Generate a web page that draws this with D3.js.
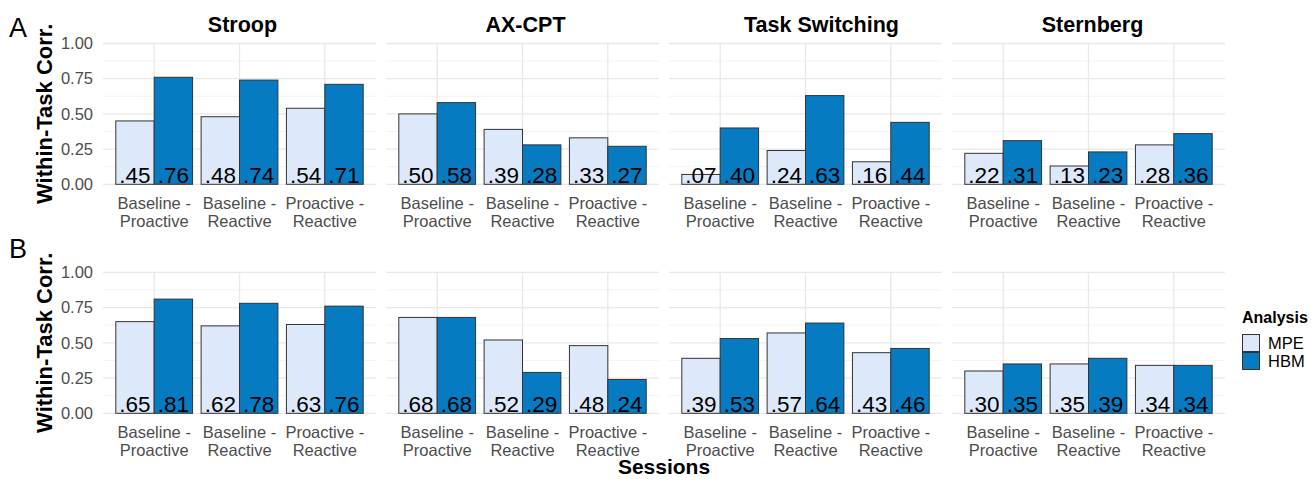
<!DOCTYPE html>
<html>
<head>
<meta charset="utf-8">
<script src="https://cdn.jsdelivr.net/npm/d3@7"></script>
<style>
  html, body { margin: 0; padding: 0; background: #fff; }
  svg { display: block; font-family: "Liberation Sans", Arial, sans-serif; }
</style>
</head>
<body>
<svg id="chart" width="1311" height="480"></svg>
<script>
// ---- data ----
const tasks = ["Stroop", "AX-CPT", "Task Switching", "Sternberg"];
const sessions = ["Baseline - Proactive", "Baseline - Reactive", "Proactive - Reactive"];
const analyses = ["MPE", "HBM"];
const yTicks = [0, 0.25, 0.5, 0.75, 1];
const yMinor = [0.125, 0.375, 0.625, 0.875];
const rows = ["A", "B"];

// values per task, per session
const rowA_MPE = [[0.45, 0.48, 0.54], [0.50, 0.39, 0.33], [0.07, 0.24, 0.16], [0.22, 0.13, 0.28]];
const rowA_HBM = [[0.76, 0.74, 0.71], [0.58, 0.28, 0.27], [0.40, 0.63, 0.44], [0.31, 0.23, 0.36]];
const rowB_MPE = [[0.65, 0.62, 0.63], [0.68, 0.52, 0.48], [0.39, 0.57, 0.43], [0.30, 0.35, 0.34]];
const rowB_HBM = [[0.81, 0.78, 0.76], [0.68, 0.29, 0.24], [0.53, 0.64, 0.46], [0.35, 0.39, 0.34]];

const colors = { MPE: "#dde9fa", HBM: "#067bc2" };

// ---- layout ----
const svg = d3.select("#chart");
const panelLeft0 = 103, panelW = 273, panelPitch = 283;
const titleShift = [3, 3, 16, 4];
const rowY = [{ top: 43.5, bottom: 184.3 }, { top: 272.3, bottom: 413.3 }];
const rowData = [[rowA_MPE, rowA_HBM], [rowB_MPE, rowB_HBM]];

const fmt = v => d3.format(".2f")(v).replace(/^0/, "");

rows.forEach((rowLabel, ri) => {
  const ry = rowY[ri];
  const y = d3.scaleLinear().domain([0, 1]).range([ry.bottom, ry.top]);

  // row letter
  svg.append("text").attr("x", 9).attr("y", ri === 0 ? 37 : 258)
    .attr("font-size", 27).attr("fill", "#000").text(rowLabel);

  // y title
  svg.append("text")
    .attr("transform", `translate(52,${(ry.top + ry.bottom) / 2}) rotate(-90)`)
    .attr("text-anchor", "middle").attr("font-size", 22).attr("font-weight", "bold")
    .attr("fill", "#000").text("Within-Task Corr.");

  // y axis tick labels
  const yAxis = d3.axisLeft(y).tickValues(yTicks).tickFormat(d3.format(".2f")).tickSize(0).tickPadding(0);
  const ga = svg.append("g").attr("transform", `translate(93,0)`).call(yAxis);
  ga.select(".domain").remove();
  ga.selectAll("text").attr("font-size", 16.5).attr("fill", "#4d4d4d")
    .attr("font-family", "Liberation Sans, Arial, sans-serif");

  tasks.forEach((task, ti) => {
    const left = panelLeft0 + ti * panelPitch;
    const x0 = d3.scaleBand().domain(sessions).range([left, left + panelW])
      .paddingInner(0).paddingOuter(0.1);
    const step = x0.step();
    const x1 = d3.scaleBand().domain(analyses).range([0, step * 0.9]).padding(0);
    const g = svg.append("g");

    // grid
    yMinor.forEach(v => g.append("line").attr("x1", left).attr("x2", left + panelW)
      .attr("y1", y(v)).attr("y2", y(v)).attr("stroke", "#f0f0f0").attr("stroke-width", 0.8));
    yTicks.forEach(v => g.append("line").attr("x1", left).attr("x2", left + panelW)
      .attr("y1", y(v)).attr("y2", y(v)).attr("stroke", "#e8e8e8").attr("stroke-width", 1.3));
    sessions.forEach(s => {
      const cx = x0(s) + step / 2;
      g.append("line").attr("x1", cx).attr("x2", cx).attr("y1", y(0)).attr("y2", y(1))
        .attr("stroke", "#e8e8e8").attr("stroke-width", 1.3);
    });

    // facet title
    if (ri === 0) {
      svg.append("text").attr("x", left + panelW / 2 + titleShift[ti]).attr("y", 32)
        .attr("text-anchor", "middle").attr("font-size", 21.5).attr("font-weight", "bold")
        .attr("fill", "#000").text(task);
    }

    // bars
    const mpe = rowData[ri][0][ti], hbm = rowData[ri][1][ti];
    sessions.forEach((s, si) => {
      const gx = x0(s) + step * 0.05;
      analyses.forEach((a, ai) => {
        const v = ai === 0 ? mpe[si] : hbm[si];
        g.append("rect").attr("x", gx + x1(a)).attr("y", y(v))
          .attr("width", x1.bandwidth()).attr("height", y(0) - y(v))
          .attr("fill", colors[a]).attr("stroke", "#333").attr("stroke-width", 1);
      });
      analyses.forEach((a, ai) => {
        const v = ai === 0 ? mpe[si] : hbm[si];
        g.append("text").attr("x", gx + x1(a) + x1.bandwidth() / 2).attr("y", y(0) - 1.5)
          .attr("text-anchor", "middle").attr("font-size", 22.5).attr("fill", "#000")
          .text(fmt(v));
      });
    });

    // x tick labels
    sessions.forEach(s => {
      const cx = x0(s) + step / 2;
      const parts = s.split(" - ");
      const t = svg.append("text").attr("text-anchor", "middle").attr("font-size", 16.5)
        .attr("fill", "#4d4d4d");
      t.append("tspan").attr("x", cx).attr("y", ry.bottom + 25).text(parts[0] + " -");
      t.append("tspan").attr("x", cx).attr("y", ry.bottom + 43).text(parts[1]);
    });
  });
});

// x title
svg.append("text").attr("x", 664).attr("y", 474).attr("text-anchor", "middle")
  .attr("font-size", 21).attr("font-weight", "bold").attr("fill", "#000").text("Sessions");

// legend
const lg = svg.append("g");
lg.append("text").attr("x", 1242).attr("y", 323).attr("font-size", 16)
  .attr("font-weight", "bold").attr("fill", "#000").text("Analysis");
analyses.forEach((a, i) => {
  lg.append("rect").attr("x", 1242.5).attr("y", 334.5 + i * 18).attr("width", 17).attr("height", 17)
    .attr("fill", colors[a]).attr("stroke", "#333").attr("stroke-width", 1);
  lg.append("text").attr("x", 1268).attr("y", 343 + i * 18).attr("dy", "0.35em")
    .attr("font-size", 16.5).attr("fill", "#000").text(a);
});
</script>
</body>
</html>
